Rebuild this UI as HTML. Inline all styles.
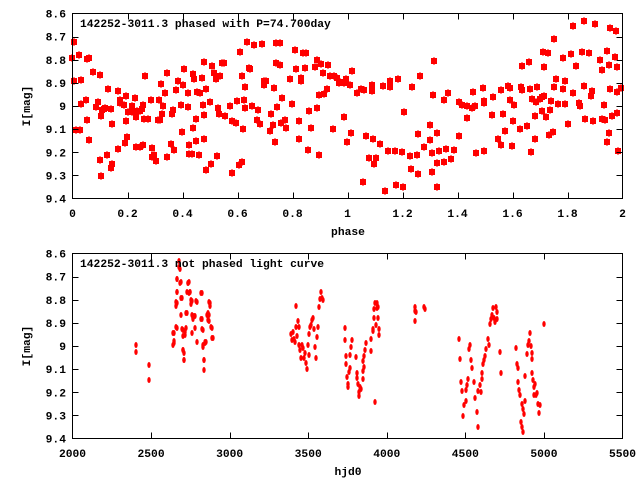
<!DOCTYPE html>
<html><head><meta charset="utf-8"><style>
html,body{margin:0;padding:0;background:#fff;width:640px;height:480px;overflow:hidden}
text{font-family:"Liberation Mono",monospace;font-weight:bold;font-size:11.3px;fill:#000}
</style></head><body>
<svg id="s" width="640" height="480" xmlns="http://www.w3.org/2000/svg">
<rect x="0" y="0" width="640" height="480" fill="#fff"/>
<g id="pts"></g>
<g id="axes" stroke="#000" stroke-width="1" fill="none">
<rect x="72.5" y="13.5" width="550" height="185"/>
<rect x="72.5" y="253.5" width="550" height="185"/>
</g>
<g id="tk" stroke="#000" stroke-width="1"></g>
<g id="lb"></g>
<text x="80" y="27">142252-3011.3 phased with P=74.700day</text>
<text x="80" y="267">142252-3011.3 not phased light curve</text>
<text x="348" y="235" text-anchor="middle">phase</text>
<text x="348" y="475" text-anchor="middle">hjd0</text>
<text transform="translate(30,106) rotate(-90)" text-anchor="middle">I[mag]</text>
<text transform="translate(30,346) rotate(-90)" text-anchor="middle">I[mag]</text>
</svg>
<script>
var NS="http://www.w3.org/2000/svg";
function el(p,t,a,txt){var e=document.createElementNS(NS,t);for(var k in a)e.setAttribute(k,a[k]);if(txt!==undefined)e.textContent=txt;p.appendChild(e);return e;}
var tk=document.getElementById('tk'),lb=document.getElementById('lb'),pts=document.getElementById('pts');
var yl=["8.6","8.7","8.8","8.9","9","9.1","9.2","9.3","9.4"];
[13.5,253.5].forEach(function(y0){
 for(var i=0;i<9;i++){var y=y0+i*185/8;var yy=Math.round(y)+0.5;
  if(i>0&&i<8){el(tk,'line',{x1:72.5,y1:yy,x2:78.5,y2:yy});el(tk,'line',{x1:622.5,y1:yy,x2:616.5,y2:yy});}
  el(lb,'text',{x:66,y:y+4,'text-anchor':'end'},yl[i]);}
});
var xl1=["0","0.2","0.4","0.6","0.8","1","1.2","1.4","1.6","1.8","2"];
for(var i=0;i<11;i++){var x=72.5+i*55;var xx=Math.round(x)+0.5;
 if(i>0&&i<10){el(tk,'line',{x1:xx,y1:198.5,x2:xx,y2:192.5});el(tk,'line',{x1:xx,y1:13.5,x2:xx,y2:19.5});}
 el(lb,'text',{x:x,y:217,'text-anchor':'middle'},xl1[i]);}
for(var i=0;i<8;i++){var x=72.5+i*550/7;var xx=Math.round(x)+0.5;
 if(i>0&&i<7){el(tk,'line',{x1:xx,y1:438.5,x2:xx,y2:432.5});el(tk,'line',{x1:xx,y1:253.5,x2:xx,y2:259.5});}
 el(lb,'text',{x:x,y:457,'text-anchor':'middle'},String(2000+i*500));}
var A=[72,58,74,42,74,81,76,130,80,130,79,55,81,80,81,104,86,100,87,120,87,59,89,58,89,140,93,72,96,107,98,102,100,75,100,160,101,176,101,116,102,110,104,109,105,108,107,155,108,89,111,109,111,168,112,164,112,124,118,149,118,91,120,100,120,103,124,105,125,143,126,96,126,121,127,137,128,112,132,106,132,112,135,98,136,147,136,117,137,111,140,111,140,147,142,109,143,105,143,145,144,119,145,76,148,119,151,100,152,148,152,157,154,155,156,161,158,120,159,100,160,120,161,84,162,114,163,106,165,93,167,73,167,157,171,144,172,114,173,110,174,150,176,90,178,81,181,105,182,132,183,85,184,69,188,93,188,107,189,145,189,154,192,154,193,128,193,74,194,79,196,141,196,119,197,92,200,93,199,155,202,78,203,105,204,139,204,62,204,115,206,89,206,170,210,102,211,164,212,66,214,73,216,79,217,156,218,108,219,114,220,76,222,63,224,63,225,116,230,106,232,173,232,121,236,123,237,101,239,165,240,52,242,162,242,76,243,129,244,100,245,108,245,87,247,42,249,68,250,69,252,106,254,45,257,120,258,110,260,124,262,44,264,81,264,85,266,81,270,131,271,114,273,125,274,88,275,142,276,43,276,63,277,107,280,43,280,65,281,123,282,98,285,120,286,128,290,79,292,104,295,50,296,69,299,121,299,139,301,78,301,81,303,53,305,68,306,53,308,150,309,111,311,128,315,67,317,60,317,108,319,95,319,155,321,64,323,73,324,94,327,89,328,65,333,129,330,76,334,76,337,78,339,83,
340,82,344,83,346,82,346,79,350,85,352,71,344,117,347,142,351,133,357,93,361,89,364,90,363,182,366,136,369,158,372,91,372,85,373,139,374,164,376,158,380,144,383,86,385,191,388,151,390,87,390,81,395,151,396,185,398,79,402,152,403,187,404,112,410,156,411,169,412,87,417,155,418,174,418,134,420,76,424,147,430,125,430,140,432,172,432,153,433,95,434,61,437,163,437,133,437,187,439,151,444,162,444,100,446,149,448,93,451,159,454,150,459,102,459,136,462,105,467,106,467,118,472,108,473,92,475,106,476,153,483,88,484,103,484,101,484,151,493,97,492,115,498,139,501,90,501,145,503,114,505,131,508,86,510,88,510,100,512,146,513,121,514,105,520,129,521,87,522,66,522,90,527,126,529,62,530,89,531,152,532,99,535,139,535,116,536,102,537,87,540,99,542,111,542,97,543,52,544,96,544,67,546,117,548,53,549,135,550,110,551,101,553,132,554,87,554,39,556,79,558,104,563,58,563,89,565,81,565,104,568,124,571,54,573,93,573,26,576,66,579,103,580,106,582,52,584,86,584,21,585,119,589,53,591,96,592,91,593,121,595,24,600,60,602,70,602,119,604,105,605,120,607,51,607,142,609,133,609,65,610,28,610,89,612,116,615,57,616,31,617,92,617,67,617,113,618,151,621,88];
for(var i=0;i<A.length;i+=2){el(pts,'rect',{x:A[i]-3,y:A[i+1]-3,width:6,height:6,fill:'#f00'});el(pts,'rect',{x:A[i]-0.5,y:A[i+1]-4,width:1,height:8,fill:'#f00'});}
var B=[136,345,136,352,149,365,149,380,173,345,173,333,174,341,176,302,176,306,177,279,177,292,176,327,179,261,179,267,180,269,181,282,181,298,181,315,182,329,183,336,183,350,184,353,184,360,185,332,186,328,186,313,187,292,188,283,189,282,189,293,190,292,191,300,191,304,192,315,192,333,193,319,194,316,195,316,196,301,201,293,201,319,202,329,203,345,204,360,204,370,205,343,206,342,207,315,208,313,209,302,209,321,210,306,211,327,212,338,
177,279,180,283,188,283,190,292,202,293,177,292,177,303,182,298,187,313,192,301,197,302,210,303,209,315,208,320,202,319,193,318,195,328,203,330,212,328,177,328,174,333,183,330,185,335,174,343,197,342,205,342,213,338,203,347,183,350,184,360,204,360,
291,334,292,340,293,332,294,339,295,342,296,306,296,327,297,336,298,321,299,327,299,345,300,350,301,358,302,345,303,348,304,358,305,353,306,363,307,369,308,345,309,355,309,334,310,327,311,325,312,320,313,318,314,329,315,347,316,358,317,337,318,327,319,307,320,299,321,292,322,298,323,300,
345,328,345,340,346,356,346,364,347,377,348,384,348,387,349,372,350,368,350,355,351,347,352,340,356,357,357,373,357,378,358,384,359,392,359,396,360,387,361,389,363,379,363,371,364,367,363,361,364,356,365,350,366,343,371,351,371,339,373,331,373,329,374,318,374,309,375,303,376,325,377,308,377,303,378,318,379,329,379,335,375,402,378,307,
415,307,415,311,416,312,415,321,424,307,425,309,
459,339,460,359,461,382,462,391,463,416,464,405,466,401,466,390,467,385,468,379,469,349,470,345,471,360,472,368,474,382,475,398,477,412,478,427,478,391,480,385,481,392,482,379,482,373,483,364,484,360,485,356,486,349,488,339,489,345,490,324,491,319,492,315,493,308,494,318,495,322,496,307,497,312,497,319,500,352,501,373,
516,348,517,364,518,368,518,382,519,390,520,395,521,422,522,404,522,427,523,409,523,432,524,414,525,376,525,401,527,354,528,345,529,341,530,333,531,346,532,353,532,359,532,373,533,380,534,387,534,395,535,384,536,395,537,393,538,404,539,413,540,405,544,324];
for(var i=0;i<B.length;i+=2){el(pts,'ellipse',{cx:B[i],cy:B[i+1],rx:1.7,ry:3,fill:'#f00'});}
</script>
</body></html>
